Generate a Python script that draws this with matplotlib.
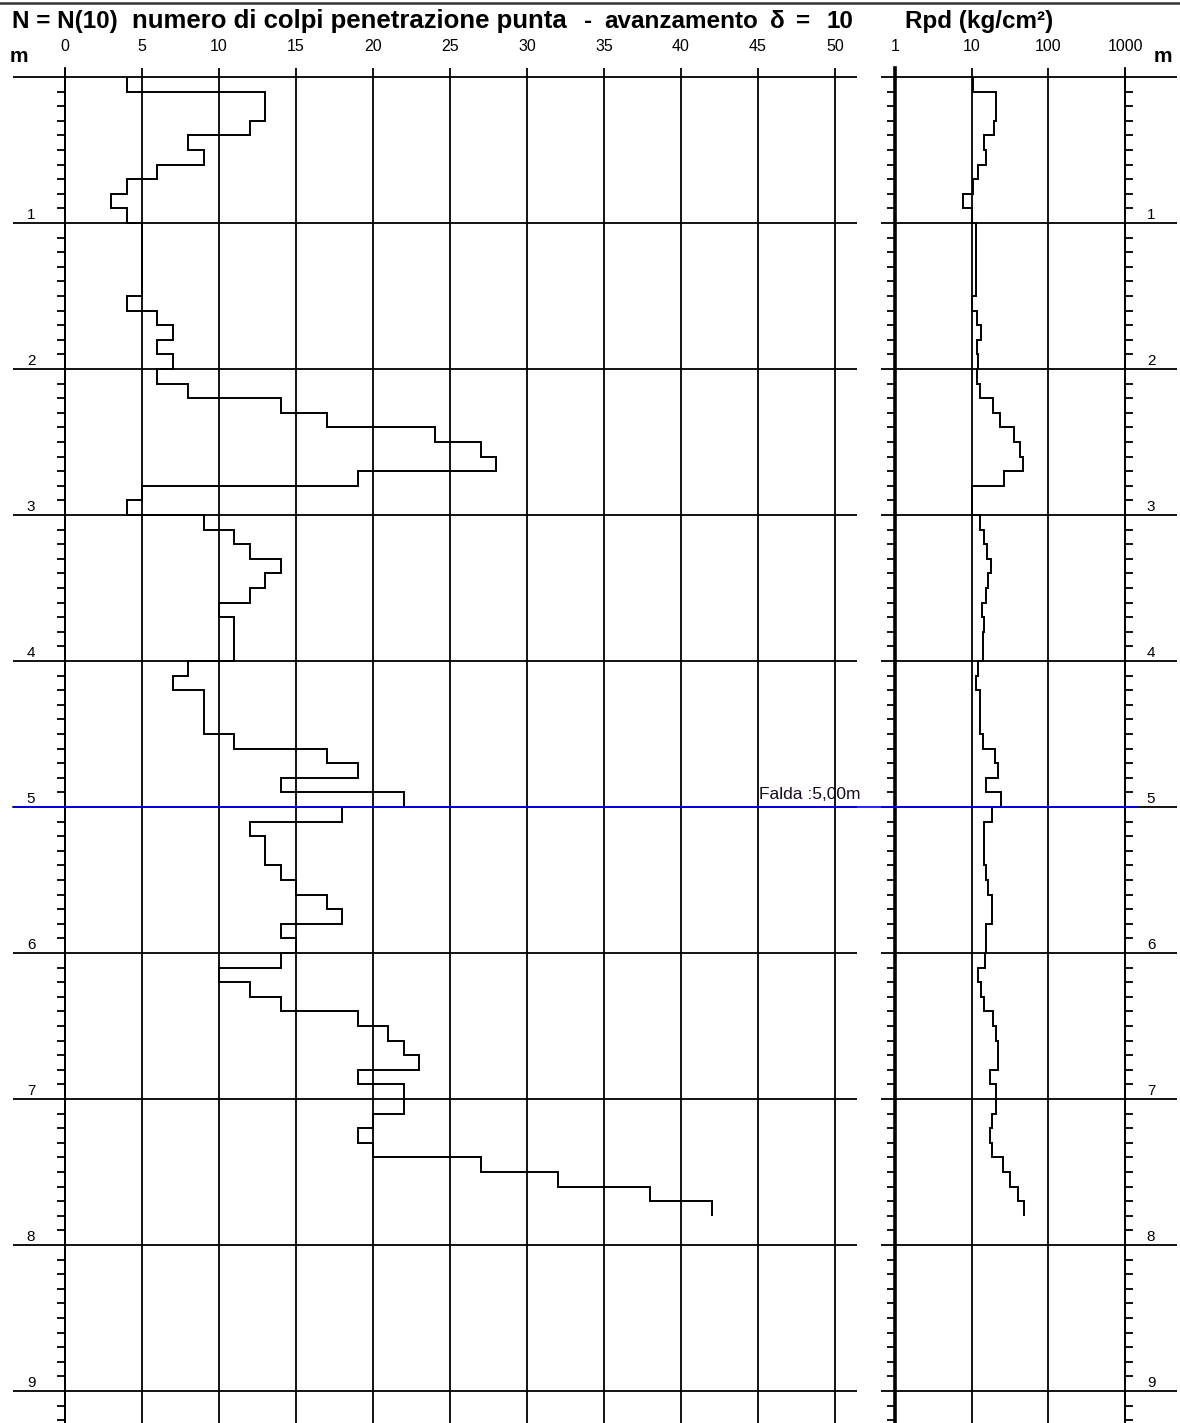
import numpy as np
import matplotlib
matplotlib.use("Agg")
import matplotlib.pyplot as plt
from matplotlib.ticker import MultipleLocator, NullLocator
from matplotlib.lines import Line2D
import matplotlib.transforms as mtransforms

plt.rcParams['font.family'] = ['Liberation Sans', 'DejaVu Sans']

# depth of the 10 cm intervals (m)
depth_edges = np.round(np.arange(0, 79) * 0.1, 1)

# N(10) blow count per interval
n10 = [4, 13, 13, 12, 8, 9, 6, 4, 3, 4,
       5, 5, 5, 5, 5, 4, 6, 7, 6, 7,
       6, 8, 14, 17, 24, 27, 28, 19, 5, 4,
       9, 11, 12, 14, 13, 12, 10, 11, 11, 11,
       8, 7, 9, 9, 9, 11, 17, 19, 14, 22,
       18, 12, 13, 13, 14, 15, 17, 18, 14, 15,
       14, 10, 12, 14, 19, 21, 22, 23, 19, 22,
       22, 20, 19, 20, 27, 32, 38, 42]

# Rpd (kg/cm2) per interval
rpd = [10.4, 20.7, 20.7, 19.7, 14.6, 15.4, 12.0, 10.5, 7.8, 10.2,
       11.3, 11.3, 11.3, 11.3, 11.3, 10.2, 11.9, 13.1, 11.7, 12.2,
       11.7, 12.8, 18.8, 23.4, 36.0, 42.6, 46.2, 26.4, 10.2, 10.2,
       12.8, 14.6, 15.7, 17.7, 16.5, 15.4, 13.7, 14.6, 13.9, 13.9,
       12.2, 11.4, 12.8, 12.8, 12.8, 13.9, 20.1, 22.3, 15.4, 23.9,
       18.6, 14.6, 14.6, 14.6, 15.4, 16.5, 18.6, 18.6, 15.2, 15.4,
       14.9, 12.0, 13.2, 14.4, 18.8, 20.7, 22.3, 22.3, 17.3, 20.7,
       20.7, 18.3, 17.3, 18.6, 25.4, 31.5, 39.6, 48.0]

n_ticks = [0, 5, 10, 15, 20, 25, 30, 35, 40, 45, 50]
rpd_ticks = [1, 10, 100, 1000]
rpd_labels = ["1", "10", "100", "1000"]
depth_major = [0, 1, 2, 3, 4, 5, 6, 7, 8, 9]
depth_labels = ["1", "2", "3", "4", "5", "6", "7", "8", "9"]
falda_depth = 5.0
falda_text = "Falda :5,00m"

W, H = 1180, 1423
fig = plt.figure(figsize=(W / 100, H / 100), dpi=100)


def px_axes(x0, y0, x1, y1):
    return fig.add_axes([x0 / W, 1 - y1 / H, (x1 - x0) / W, (y1 - y0) / H])


PX_M = 146.0      # pixels per metre
Y0 = 77.0         # pixel row of depth 0
ylims = ((1423 - Y0) / PX_M, (68 - Y0) / PX_M)
LW = 1.3
TICK_FS = 11.5
PAD = 10

# ---- left panel: N(10)
ax = px_axes(13, 68, 857, 1423)
ax.set_xlim((13 - 65) / 15.4, (857 - 65) / 15.4)
ax.set_ylim(*ylims)
ax.set_xticks(n_ticks)
ax.xaxis.tick_top()
ax.tick_params(axis='x', length=0, pad=PAD, labelsize=TICK_FS)
ax.set_yticks(depth_major)
ax.set_yticklabels([])
ax.yaxis.set_minor_locator(MultipleLocator(0.1))
ax.tick_params(axis='y', which='major', length=0)
ax.tick_params(axis='y', which='minor', length=5.8, width=LW, direction='out')
ax.grid(True, which='major', color='black', lw=LW)
for s in ['top', 'right', 'bottom']:
    ax.spines[s].set_visible(False)
ax.spines['left'].set_position(('data', 0))
ax.spines['left'].set_linewidth(LW)
ax.stairs(n10, depth_edges, orientation='horizontal', baseline=None,
          color='black', lw=1.4, zorder=4)
for d, lab in zip(depth_major[1:], depth_labels):
    ax.text((31 - 65) / 15.4, d - 0.025, lab, ha='center', va='baseline', fontsize=11)
ax.text((759 - 65) / 15.4, falda_depth - 0.055, falda_text, ha='left',
        va='baseline', fontsize=12.5, color='#1a0a20')

# ---- right panel: Rpd (log)
ax2 = px_axes(881, 68, 1177, 1423)
ax2.set_xscale('log')
ax2.set_xlim(10 ** ((881 - 895) / 76.7), 10 ** ((1177 - 895) / 76.7))
ax2.set_ylim(*ylims)
ax2.set_xticks(rpd_ticks)
ax2.set_xticklabels(rpd_labels)
ax2.xaxis.set_minor_locator(NullLocator())
ax2.xaxis.tick_top()
ax2.tick_params(axis='x', length=0, pad=PAD, labelsize=TICK_FS)
ax2.set_yticks(depth_major)
ax2.set_yticklabels([])
ax2.yaxis.set_minor_locator(MultipleLocator(0.1))
ax2.yaxis.set_ticks_position('both')
ax2.tick_params(axis='y', which='major', length=0)
ax2.tick_params(axis='y', which='minor', length=5.8, width=LW, direction='out')
ax2.grid(True, which='major', color='black', lw=LW)
for s in ['top', 'bottom']:
    ax2.spines[s].set_visible(False)
ax2.spines['left'].set_position(('data', 1))
ax2.spines['left'].set_linewidth(2.6)
ax2.spines['right'].set_position(('data', 1000))
ax2.spines['right'].set_linewidth(LW)
ax2.stairs(rpd, depth_edges, orientation='horizontal', baseline=None,
           color='black', lw=1.4, zorder=4)
for d, lab in zip(depth_major[1:], depth_labels):
    ax2.text(10 ** ((1151 - 895) / 76.7), d - 0.025, lab, ha='center',
             va='baseline', fontsize=11)

# water table line across both panels
tr = mtransforms.blended_transform_factory(fig.transFigure, ax.transData)
fig.add_artist(Line2D([13 / W, 1138 / W], [falda_depth, falda_depth],
                      transform=tr, color='#0000ff', lw=1.2, zorder=3))

# top border and titles
fig.add_artist(Line2D([0, 1], [1 - 2.5 / H, 1 - 2.5 / H], color='#333333', lw=1.8))
ty = 1 - 28 / H
head = dict(fontsize=17.5, fontweight='bold', va='baseline')
fig.text(12 / W, ty, "N = N(10)", **head)
fig.text(132 / W, ty, "numero di colpi penetrazione punta", fontsize=18.5,
         fontweight='bold', va='baseline')
fig.text(584 / W, ty, "-", **head)
fig.text(604 / W, ty, "avanzamento", **head)
fig.text(770 / W, ty, "δ", **head)
fig.text(796 / W, ty, "=", **head)
fig.text(826 / W, ty, "10", **head)
fig.text(905 / W, ty, "Rpd (kg/cm²)", **head)
fig.text(19 / W, 1 - 57 / H, "m", fontsize=15, fontweight='bold', ha='center', va='center')
fig.text(1163 / W, 1 - 57 / H, "m", fontsize=15, fontweight='bold', ha='center', va='center')

fig.savefig("out.png", dpi=100)
